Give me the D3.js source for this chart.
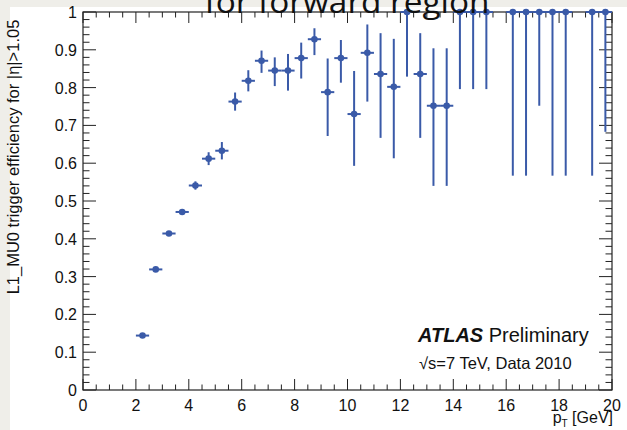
<!DOCTYPE html>
<html>
<head>
<meta charset="utf-8">
<script src="https://cdn.jsdelivr.net/npm/d3@7"></script>
<style>
  body { margin: 0; background: #fff; }
  svg { display: block; font-family: "Liberation Sans", Arial, sans-serif; }
</style>
</head>
<body>
<svg id="chart"></svg>
<script>
// bin centres (GeV), efficiency and lower / upper error bounds
var ptBins = [2.25, 2.75, 3.25, 3.75, 4.25, 4.75, 5.25, 5.75, 6.25, 6.75, 7.25, 7.75,
              8.25, 8.75, 9.25, 9.75, 10.25, 10.75, 11.25, 11.75, 12.25, 12.75, 13.25, 13.75,
              14.25, 14.75, 15.25, 16.25, 16.75, 17.25, 17.75, 18.25, 19.25, 19.75];
var eff    = [0.144, 0.319, 0.414, 0.471, 0.541, 0.612, 0.633, 0.763, 0.818, 0.871, 0.845, 0.845,
              0.878, 0.928, 0.788, 0.878, 0.730, 0.892, 0.836, 0.802, 1.0, 0.836, 0.752, 0.752,
              1, 1, 1, 1, 1, 1, 1, 1, 1, 1];
var effLo  = [0.139, 0.314, 0.409, 0.464, 0.530, 0.595, 0.610, 0.739, 0.790, 0.839, 0.804, 0.792,
              0.824, 0.886, 0.672, 0.813, 0.593, 0.763, 0.667, 0.613, 0.829, 0.667, 0.540, 0.540,
              0.796, 0.796, 0.796, 0.567, 0.567, 0.752, 0.567, 0.567, 0.567, 0.683];
var effHi  = [0.149, 0.324, 0.419, 0.478, 0.552, 0.629, 0.656, 0.787, 0.846, 0.898, 0.880, 0.889,
              0.919, 0.957, 0.877, 0.926, 0.844, 0.967, 0.944, 0.929, 1, 0.944, 0.904, 0.904,
              1, 1, 1, 1, 1, 1, 1, 1, 1, 1];
var binHalf = 0.25;

var xTicks = [0, 2, 4, 6, 8, 10, 12, 14, 16, 18, 20];
var yTicks = [0, 0.1, 0.2, 0.3, 0.4, 0.5, 0.6, 0.7, 0.8, 0.9, 1];

var W = 627, H = 430;
var blue = '#3a5aa8';

var svg = d3.select('#chart').attr('width', W).attr('height', H);

// slide background strips
svg.append('rect').attr('width', W).attr('height', H).attr('fill', '#fff');
svg.append('rect').attr('x', 0).attr('y', 0).attr('width', W).attr('height', 7).attr('fill', '#efeee9');
svg.append('rect').attr('x', 0).attr('y', 0).attr('width', 10).attr('height', H).attr('fill', '#efeee9');

var x = d3.scaleLinear().domain([0, 20]).range([83, 612]);
var y = d3.scaleLinear().domain([0, 1]).range([390, 12]);

var g = svg.append('g');

// ticks (ROOT style: inside, mirrored on top/right)
var xMinor = d3.range(0, 20.001, 0.5);
var yMinor = d3.range(0, 1.0001, 0.02);

function isMajor(v, step){ return Math.abs(v / step - Math.round(v / step)) < 1e-6; }

g.selectAll('.xt').data(xMinor).enter().append('path')
  .attr('d', function(d){
    var L = isMajor(d, 2) ? 11 : 5.5, px = x(d);
    return 'M' + px + ',' + y(0) + 'v' + (-L) + 'M' + px + ',' + y(1) + 'v' + L;
  })
  .attr('stroke', '#222').attr('stroke-width', 1);

g.selectAll('.yt').data(yMinor).enter().append('path')
  .attr('d', function(d){
    var L = isMajor(d, 0.1) ? 13 : 6.5, py = y(d);
    return 'M' + x(0) + ',' + py + 'h' + L + 'M' + x(20) + ',' + py + 'h' + (-L);
  })
  .attr('stroke', '#222').attr('stroke-width', 1);

// frame
g.append('rect')
  .attr('x', x(0)).attr('y', y(1))
  .attr('width', x(20) - x(0)).attr('height', y(0) - y(1))
  .attr('fill', 'none').attr('stroke', '#222').attr('stroke-width', 1.2);

// tick labels
g.selectAll('.xl').data(xTicks).enter().append('text')
  .attr('x', function(d){ return x(d); })
  .attr('y', 411)
  .attr('text-anchor', 'middle')
  .attr('font-size', 16)
  .attr('fill', '#111')
  .text(function(d){ return d; });

g.selectAll('.yl').data(yTicks).enter().append('text')
  .attr('x', 77)
  .attr('y', function(d){ return y(d) + 6; })
  .attr('text-anchor', 'end')
  .attr('font-size', 16)
  .attr('fill', '#111')
  .text(function(d){ return d; });

// axis titles
g.append('text')
  .attr('transform', 'translate(19,157) rotate(-90)')
  .attr('text-anchor', 'middle')
  .attr('font-size', 16.5)
  .attr('fill', '#111')
  .text('L1_MU0 trigger efficiency for |\u03b7|>1.05');

var xt = g.append('text')
  .attr('x', 613).attr('y', 423)
  .attr('text-anchor', 'end')
  .attr('font-size', 16)
  .attr('fill', '#111');
xt.append('tspan').text('p');
xt.append('tspan').attr('font-size', 10).attr('dy', 4).text('T');
xt.append('tspan').attr('dy', -4).text(' [GeV]');

// data: error bars then markers
var pts = ptBins.map(function(p, i){
  return {x: p, v: eff[i], lo: effLo[i], hi: effHi[i]};
});

var pg = g.append('g');
pg.selectAll('.ex').data(pts).enter().append('line')
  .attr('x1', function(d){ return x(d.x - binHalf); })
  .attr('x2', function(d){ return x(d.x + binHalf); })
  .attr('y1', function(d){ return y(d.v); })
  .attr('y2', function(d){ return y(d.v); })
  .attr('stroke', blue).attr('stroke-width', 2);

pg.selectAll('.ey').data(pts).enter().append('line')
  .attr('x1', function(d){ return x(d.x); })
  .attr('x2', function(d){ return x(d.x); })
  .attr('y1', function(d){ return y(d.lo); })
  .attr('y2', function(d){ return y(d.hi); })
  .attr('stroke', blue).attr('stroke-width', 2);

pg.selectAll('circle').data(pts).enter().append('circle')
  .attr('cx', function(d){ return x(d.x); })
  .attr('cy', function(d){ return y(d.v); })
  .attr('r', 3.3)
  .attr('fill', blue);

// ATLAS label
var at = g.append('text').attr('x', 418).attr('y', 342).attr('font-size', 20).attr('fill', '#111');
at.append('tspan').attr('font-weight', 'bold').attr('font-style', 'italic').text('ATLAS');
at.append('tspan').text(' Preliminary');

g.append('text')
  .attr('x', 419).attr('y', 369)
  .attr('font-size', 16.5)
  .attr('fill', '#111')
  .text('\u221As=7 TeV, Data 2010');

// slide title (cut by top of the picture)
svg.append('text')
  .attr('x', 347).attr('y', 13)
  .attr('text-anchor', 'middle')
  .attr('font-family', '"Open Sans", "Noto Sans", sans-serif')
  .attr('font-size', 31)
  .attr('textLength', 285)
  .attr('lengthAdjust', 'spacingAndGlyphs')
  .attr('fill', '#111')
  .text('for forward region');
</script>
</body>
</html>
